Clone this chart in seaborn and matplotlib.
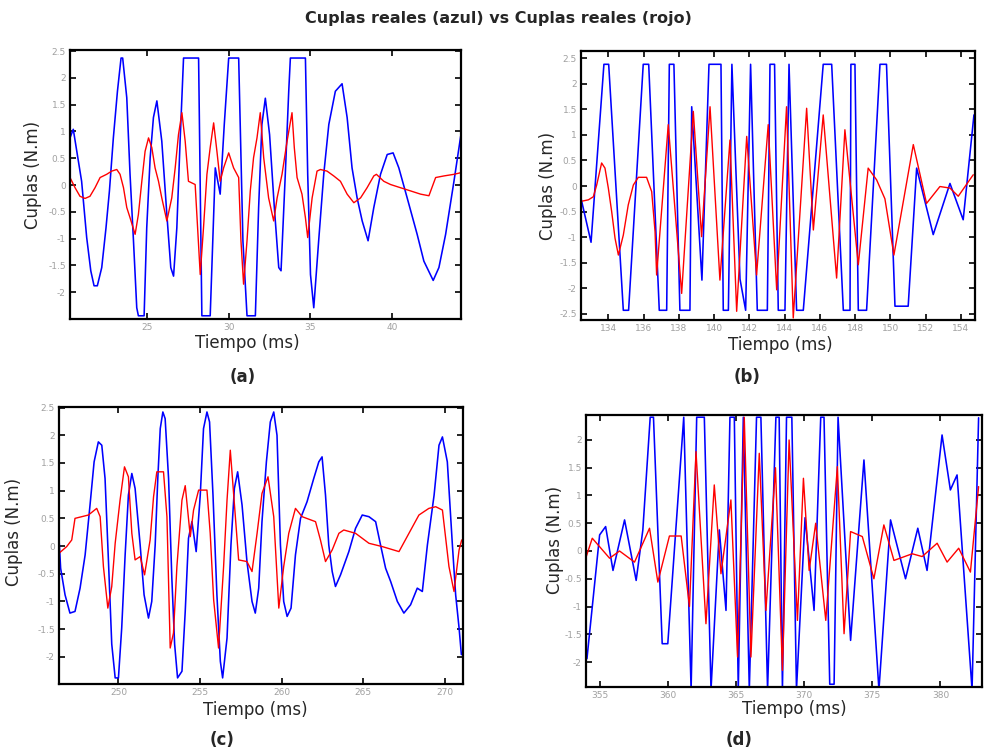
import matplotlib
matplotlib.use("Agg")
import matplotlib.pyplot as plt
import seaborn as sns
import pandas as pd

# ---------------- data ----------------
# panel (a)
ta_blue = [20.30, 20.50, 21.01, 21.32, 21.57, 21.77, 21.97, 22.24, 22.50, 22.71, 22.95, 23.20,
           23.42, 23.52, 23.77, 23.97, 24.18, 24.38, 24.48, 24.83, 24.99, 25.20, 25.40, 25.61,
           25.91, 26.22, 26.46, 26.63, 26.83, 27.03, 27.24, 28.16, 28.36, 28.87, 29.18, 29.48,
           29.73, 30.00, 30.61, 30.87, 31.12, 31.63, 31.83, 32.03, 32.24, 32.50, 32.79, 33.06,
           33.20, 33.46, 33.67, 33.77, 34.69, 34.83, 35.00, 35.20, 35.50, 35.81, 36.12, 36.52,
           36.93, 37.24, 37.54, 37.85, 38.16, 38.52, 38.87, 39.28, 39.69, 40.05, 40.40, 40.91,
           41.52, 41.93, 42.50, 42.85, 43.26, 43.77, 44.18]
va_blue = [0.88, 1.04, 0.07, -0.98, -1.60, -1.88, -1.88, -1.54, -0.80, -0.11, 0.88, 1.75,
           2.37, 2.37, 1.63, 0.20, -1.04, -2.29, -2.44, -2.44, -0.80, 0.51, 1.26, 1.57,
           0.82, -0.55, -1.54, -1.70, -0.80, 0.82, 2.37, 2.37, -2.44, -2.44, 0.32, -0.17,
           1.13, 2.37, 2.37, -1.04, -2.44, -2.44, -0.42, 1.13, 1.62, 0.94, -0.42, -1.54,
           -1.60, 0.20, 1.75, 2.37, 2.37, 0.20, -1.67, -2.29, -1.04, 0.20, 1.13, 1.75,
           1.89, 1.26, 0.32, -0.24, -0.67, -1.04, -0.42, 0.20, 0.57, 0.60, 0.32, -0.24,
           -0.92, -1.42, -1.78, -1.54, -0.92, 0.07, 0.91]
ta_red = [20.30, 20.61, 20.91, 21.22, 21.52, 21.83, 22.14, 22.54, 22.85, 23.16, 23.36, 23.57,
          23.77, 23.97, 24.28, 24.48, 24.69, 24.89, 25.10, 25.30, 25.50, 25.71, 25.91, 26.22,
          26.52, 26.73, 26.93, 27.14, 27.34, 27.54, 27.95, 28.10, 28.26, 28.46, 28.67, 28.87,
          29.08, 29.28, 29.48, 29.69, 30.00, 30.30, 30.61, 30.75, 30.91, 31.12, 31.32, 31.52,
          31.73, 31.93, 32.14, 32.44, 32.75, 32.96, 33.26, 33.57, 33.87, 34.01, 34.18, 34.48,
          34.69, 34.83, 35.10, 35.40, 35.61, 36.01, 36.42, 36.83, 37.24, 37.65, 38.06, 38.46,
          38.87, 39.03, 39.48, 39.89, 40.50, 41.12, 41.73, 42.24, 42.65, 43.16, 43.77, 44.18]
va_red = [0.14, -0.05, -0.21, -0.25, -0.21, -0.05, 0.14, 0.20, 0.26, 0.29, 0.20, -0.05,
          -0.42, -0.61, -0.92, -0.55, 0.07, 0.63, 0.88, 0.70, 0.32, 0.07, -0.24, -0.67,
          -0.24, 0.32, 0.94, 1.35, 0.82, 0.07, 0.01, -0.80, -1.67, -0.80, 0.20, 0.70,
          1.16, 0.63, 0.07, 0.32, 0.60, 0.32, 0.14, -1.04, -1.85, -1.04, -0.11, 0.51,
          0.88, 1.35, 0.51, -0.24, -0.67, -0.24, 0.20, 0.82, 1.35, 0.70, 0.14, -0.17,
          -0.61, -0.98, -0.24, 0.26, 0.29, 0.26, 0.17, 0.07, -0.17, -0.33, -0.24, -0.05,
          0.17, 0.20, 0.07, 0.01, -0.05, -0.11, -0.17, -0.20, 0.14, 0.17, 0.20, 0.23]

# panel (b)
tb_blue = [132.45, 133.02, 133.75, 134.02, 134.85, 135.15, 135.98, 136.29, 136.89, 137.31,
           137.46, 137.72, 138.06, 138.63, 138.73, 139.31, 139.71, 140.39, 140.52, 140.81,
           141.01, 141.47, 141.79, 142.07, 142.45, 143.02, 143.17, 143.43, 143.64, 144.02,
           144.25, 144.68, 145.06, 146.19, 146.67, 147.33, 147.71, 147.76, 147.99, 148.18,
           148.65, 149.41, 149.78, 150.26, 151.01, 151.49, 152.43, 153.38, 154.13, 154.74]
vb_blue = [-0.24, -1.10, 2.38, 2.38, -2.43, -2.43, 2.38, 2.38, -2.43, -2.43,
           2.38, 2.38, -2.43, -2.43, 1.55, -1.84, 2.38, 2.38, -2.43, -2.43,
           2.38, -1.82, -2.43, 2.38, -2.43, -2.43, 2.38, 2.38, -2.43, -2.43,
           2.38, -2.43, -2.43, 2.38, 2.38, -2.43, -2.43, 2.38, 2.38, -2.43,
           -2.43, 2.38, 2.38, -2.35, -2.35, 0.35, -0.95, 0.05, -0.66, 1.39]
tb_red = [132.45, 132.87, 133.15, 133.34, 133.62, 133.81, 134.00, 134.19, 134.38, 134.57,
          134.85, 135.13, 135.42, 135.70, 136.17, 136.46, 136.65, 136.74, 137.40, 138.16,
          138.82, 139.29, 139.77, 140.33, 140.90, 141.28, 141.85, 142.41, 143.07, 143.55,
          144.11, 144.49, 145.25, 145.63, 146.19, 146.95, 147.42, 148.18, 148.74, 149.22,
          149.69, 150.20, 151.30, 152.05, 152.81, 153.38, 153.85, 154.70]
vb_red = [-0.30, -0.27, -0.21, 0.02, 0.45, 0.35, -0.04, -0.50, -1.02, -1.35,
          -0.96, -0.37, 0.02, 0.17, 0.17, -0.11, -0.89, -1.74, 1.20, -2.10,
          1.46, -0.99, 1.55, -1.84, 0.90, -2.45, 0.97, -1.74, 1.20, -2.03,
          1.55, -2.58, 1.52, -0.86, 1.39, -1.80, 1.10, -1.54, 0.35, 0.12,
          -0.25, -1.35, 0.81, -0.34, -0.01, -0.04, -0.20, 0.22]

# panel (c)
tc_blue = [246.36, 246.46, 246.73, 247.03, 247.34, 247.65, 247.96, 248.26, 248.51, 248.77,
           248.98, 249.18, 249.39, 249.59, 249.80, 250.00, 250.20, 250.41, 250.61, 250.82,
           251.02, 251.33, 251.57, 251.84, 252.04, 252.25, 252.41, 252.56, 252.72, 252.86,
           253.07, 253.27, 253.44, 253.62, 253.89, 254.09, 254.29, 254.50, 254.76, 255.01,
           255.21, 255.42, 255.58, 255.79, 256.03, 256.24, 256.38, 256.65, 256.89, 257.10,
           257.30, 257.57, 257.87, 258.18, 258.38, 258.59, 258.79, 259.06, 259.30, 259.51,
           259.71, 259.92, 260.12, 260.33, 260.57, 260.84, 261.15, 261.55, 261.96, 262.27,
           262.47, 262.68, 262.88, 263.09, 263.29, 263.60, 264.11, 264.52, 264.93, 265.34,
           265.75, 266.05, 266.36, 266.67, 267.08, 267.48, 267.89, 268.30, 268.61, 268.92,
           269.33, 269.63, 269.84, 270.14, 270.45, 270.65, 270.86, 271.00]
vc_blue = [0.14, -0.40, -0.88, -1.21, -1.18, -0.76, -0.16, 0.74, 1.52, 1.88,
           1.82, 1.22, -0.28, -1.77, -2.38, -2.38, -1.48, -0.16, 0.92, 1.31,
           1.04, 0.02, -0.88, -1.30, -1.00, 0.02, 1.22, 2.12, 2.42, 2.30,
           1.22, -0.58, -1.77, -2.38, -2.26, -1.18, 0.14, 0.44, -0.10, 0.92,
           2.12, 2.42, 2.24, 0.92, -0.88, -2.08, -2.38, -1.66, 0.02, 1.04,
           1.34, 0.74, -0.28, -1.00, -1.21, -0.76, 0.44, 1.52, 2.24, 2.42,
           2.00, 0.02, -1.00, -1.27, -1.12, -0.16, 0.50, 0.80, 1.22, 1.52,
           1.61, 0.92, 0.02, -0.46, -0.73, -0.52, -0.10, 0.32, 0.56, 0.53,
           0.44, 0.02, -0.40, -0.64, -1.00, -1.21, -1.06, -0.76, -0.82, 0.02,
           0.92, 1.82, 1.97, 1.52, 0.02, -0.88, -1.48, -1.96]
tc_red = [246.36, 246.83, 247.14, 247.34, 247.75, 248.16, 248.67, 248.88, 249.08, 249.35,
          249.59, 249.80, 250.10, 250.37, 250.61, 250.82, 251.02, 251.33, 251.60, 251.94,
          252.15, 252.35, 252.76, 252.97, 253.17, 253.37, 253.58, 253.89, 254.09, 254.40,
          254.60, 254.91, 255.42, 255.62, 255.83, 256.13, 256.44, 256.65, 256.85, 257.16,
          257.36, 257.87, 258.18, 258.49, 258.79, 259.16, 259.51, 259.82, 260.12, 260.43,
          260.84, 261.25, 262.07, 262.37, 262.68, 263.09, 263.50, 263.80, 264.52, 265.34,
          266.16, 267.18, 267.79, 268.40, 269.01, 269.43, 269.84, 270.24, 270.55, 270.86,
          271.02]
vc_red = [-0.13, -0.01, 0.11, 0.50, 0.53, 0.56, 0.68, 0.53, -0.37, -1.12,
          -0.73, 0.05, 0.83, 1.43, 1.25, 0.23, -0.25, -0.19, -0.52, 0.11,
          0.89, 1.34, 1.34, 0.53, -1.84, -1.57, -0.37, 0.83, 1.09, 0.17,
          0.65, 1.01, 1.01, 0.23, -0.97, -1.84, -0.37, 0.83, 1.73, 0.53,
          -0.25, -0.28, -0.46, 0.23, 0.95, 1.25, 0.53, -1.12, -0.37, 0.23,
          0.68, 0.53, 0.44, 0.11, -0.28, -0.07, 0.23, 0.29, 0.23, 0.05,
          -0.01, -0.10, 0.23, 0.56, 0.68, 0.71, 0.65, -0.37, -0.82, -0.07,
          0.11]

# panel (d)
td_blue = [354.07, 355.00, 355.44, 355.98, 356.83, 357.68, 358.17, 358.71, 358.95, 359.59,
           360.00, 361.17, 361.71, 362.12, 362.68, 363.17, 363.78, 364.27, 364.56, 364.88,
           365.17, 365.54, 365.98, 366.51, 366.83, 367.32, 367.93, 368.17, 368.41, 368.71,
           369.10, 369.44, 370.07, 370.73, 371.22, 371.46, 371.88, 372.20, 372.49, 373.41,
           374.39, 375.49, 376.34, 377.44, 378.34, 379.02, 380.12, 380.73, 381.22, 382.32,
           382.80]
vd_blue = [-1.94, 0.29, 0.44, -0.35, 0.56, -0.53, 0.38, 2.41, 2.41, -1.67,
           -1.67, 2.41, -2.50, 2.41, 2.41, -2.50, 0.38, -1.07, 2.41, 2.41,
           -2.50, 2.41, -2.50, 2.41, 2.41, -2.50, 2.41, 2.41, -2.50, 2.41,
           2.41, -2.50, 0.60, -1.07, 2.41, 2.41, -2.40, -2.40, 2.41, -1.61,
           1.64, -2.50, 0.56, -0.50, 0.41, -0.35, 2.09, 1.10, 1.37, -2.50,
           2.40]
td_red = [354.02, 354.46, 355.73, 356.46, 357.56, 358.66, 359.27, 360.12, 360.98, 361.59,
          362.07, 362.80, 363.41, 363.90, 364.63, 365.12, 365.61, 366.10, 366.71, 367.20,
          367.90, 368.41, 368.90, 369.51, 369.95, 370.37, 370.85, 371.59, 372.44, 372.93,
          373.41, 374.27, 375.12, 375.85, 376.59, 377.93, 378.66, 379.76, 380.49, 381.34,
          382.20, 382.80]
vd_red = [-0.10, 0.23, -0.13, 0.00, -0.20, 0.41, -0.56, 0.27, 0.27, -1.00,
          1.79, -1.31, 1.19, -0.41, 0.92, -1.91, 2.41, -1.91, 1.76, -1.07,
          1.50, -2.15, 2.00, -1.25, 1.31, -0.35, 0.50, -1.25, 1.52, -1.49,
          0.35, 0.26, -0.50, 0.47, -0.17, -0.05, -0.10, 0.14, -0.20, 0.05,
          -0.38, 1.16]

title = "Cuplas reales (azul) vs Cuplas reales (rojo)"
xlabel = "Tiempo (ms)"
ylabel = "Cuplas (N.m)"
letters = ["(a)", "(b)", "(c)", "(d)"]
xticks_a = [25, 30, 35, 40]
xticks_b = [134, 136, 138, 140, 142, 144, 146, 148, 150, 152, 154]
xticks_c = [250, 255, 260, 265, 270]
xticks_d = [355, 360, 365, 370, 375, 380]
yticks_a = [-2, -1.5, -1, -0.5, 0, 0.5, 1, 1.5, 2, 2.5]
yticks_b = [-2.5, -2, -1.5, -1, -0.5, 0, 0.5, 1, 1.5, 2, 2.5]
yticks_d = [-2, -1.5, -1, -0.5, 0, 0.5, 1, 1.5, 2]

# ---------------- drawing ----------------
sns.set_theme(style="white")
plt.rcParams["font.family"] = ["DejaVu Sans"]

W, H = 984, 754
fig = plt.figure(figsize=(W / 100, H / 100), dpi=100)
fig.patch.set_facecolor("white")

def add_ax(l, t, r, b):
    return fig.add_axes([l / W, 1 - b / H, (r - l) / W, (b - t) / H])

panels = [
    dict(box=(70, 50, 461, 319), tb=ta_blue, vb=va_blue, tr=ta_red, vr=va_red,
         xlim=(20.3, 44.2), ylim=(-2.5, 2.52), xt=xticks_a, yt=yticks_a,
         ylab=(-0.095, 0.535), xlab=(0.453, -0.089), letter=(243, 377)),
    dict(box=(581, 51, 975, 320), tb=tb_blue, vb=vb_blue, tr=tb_red, vr=vb_red,
         xlim=(132.45, 154.8), ylim=(-2.62, 2.64), xt=xticks_b, yt=yticks_b,
         ylab=(-0.084, 0.5), xlab=(0.505, -0.093), letter=(747, 377)),
    dict(box=(59, 407, 463, 684), tb=tc_blue, vb=vc_blue, tr=tc_red, vr=vc_red,
         xlim=(246.36, 271.1), ylim=(-2.49, 2.51), xt=xticks_c, yt=yticks_a,
         ylab=(-0.111, 0.549), xlab=(0.485, -0.094), letter=(222, 740)),
    dict(box=(586, 415, 982, 687), tb=td_blue, vb=vd_blue, tr=td_red, vr=vd_red,
         xlim=(354.0, 383.05), ylim=(-2.45, 2.45), xt=xticks_d, yt=yticks_d,
         ylab=(-0.078, 0.54), xlab=(0.526, -0.081), letter=(739, 740)),
]

for i, p in enumerate(panels):
    ax = add_ax(*p["box"])
    dfb = pd.DataFrame({"t": p["tb"], "v": p["vb"]})
    dfr = pd.DataFrame({"t": p["tr"], "v": p["vr"]})
    sns.lineplot(data=dfb, x="t", y="v", ax=ax, color="#0000ff", lw=1.15,
                 estimator=None, sort=False)
    sns.lineplot(data=dfr, x="t", y="v", ax=ax, color="#ff0000", lw=1.0,
                 estimator=None, sort=False)
    ax.set_xlim(*p["xlim"])
    ax.set_ylim(*p["ylim"])
    ax.set_xticks(p["xt"])
    ax.set_yticks(p["yt"])
    ax.set_xticklabels([f"{v:g}" for v in p["xt"]])
    ax.set_yticklabels([f"{v:g}" for v in p["yt"]])
    ax.tick_params(direction="in", length=4, width=1.2, color="black",
                   top=True, right=True, bottom=True, left=True,
                   labelsize=6.5, labelcolor="#a0a0a0", pad=3)
    for s in ax.spines.values():
        s.set_color("black")
        s.set_linewidth(1.6)
    ax.set_xlabel(xlabel, fontsize=12)
    ax.set_ylabel(ylabel, fontsize=12)
    ax.xaxis.label.set_va("center")
    ax.yaxis.label.set_va("center")
    ax.xaxis.set_label_coords(*p["xlab"])
    ax.yaxis.set_label_coords(*p["ylab"])
    ax.grid(False)
    lx, ly = p["letter"]
    fig.text(lx / W, 1 - ly / H, letters[i], ha="center", va="center",
             fontsize=12, fontweight="bold")

fig.text(498 / W, 1 - 18 / H, title, ha="center", va="center",
         fontsize=11.5, fontweight="bold")

fig.savefig("out.png", dpi=100, facecolor="white")
